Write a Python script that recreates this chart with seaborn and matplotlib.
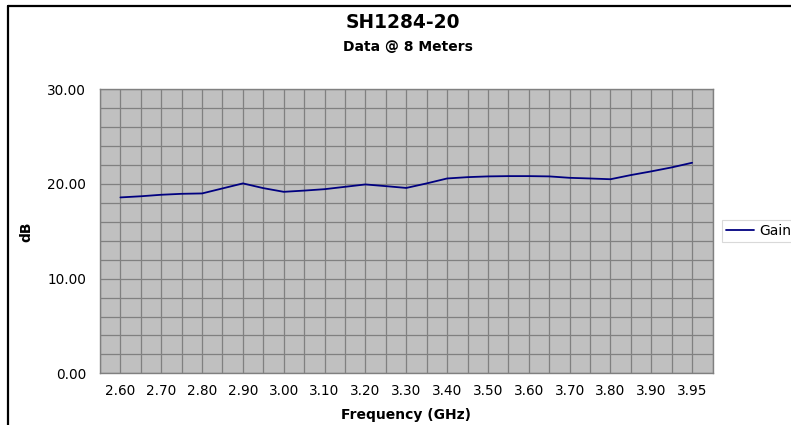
import matplotlib
matplotlib.use("Agg")
import matplotlib.pyplot as plt
from matplotlib.lines import Line2D
import seaborn as sns
import pandas as pd

# Frequency categories (GHz) - every other label is shown on the axis
freq_labels = ["2.60", "2.65", "2.70", "2.75", "2.80", "2.85", "2.90", "2.95",
               "3.00", "3.05", "3.10", "3.15", "3.20", "3.25", "3.30", "3.35",
               "3.40", "3.45", "3.50", "3.55", "3.60", "3.65", "3.70", "3.75",
               "3.80", "3.85", "3.90", "3.93", "3.95"]
# Gain (dB)
gain = [18.58, 18.7, 18.86, 18.96, 19.0, 19.53, 20.06, 19.56, 19.17, 19.3,
        19.45, 19.7, 19.95, 19.77, 19.58, 20.06, 20.58, 20.72, 20.8, 20.83,
        20.83, 20.8, 20.65, 20.58, 20.5, 20.94, 21.33, 21.75, 22.24]

df = pd.DataFrame({"pos": range(len(freq_labels)), "Gain": gain})

sns.set_style("white")
plt.rcParams["font.family"] = ["DejaVu Sans"]
plt.rcParams["text.color"] = "black"
plt.rcParams["axes.labelcolor"] = "black"

fig = plt.figure(figsize=(7.91, 4.25), dpi=100)
ax = fig.add_axes([0.1264, 0.1216, 0.7744, 0.6683])
ax.set_facecolor("#c0c0c0")

sns.lineplot(data=df, x="pos", y="Gain", ax=ax, color="#000080", linewidth=1.3, label="Gain")

# x axis: labels on even categories, tick marks between them
ax.set_xlim(-1, len(freq_labels))
ax.set_xticks(range(0, len(freq_labels), 2))
ax.set_xticklabels(freq_labels[::2])
ax.set_xticks(range(-1, len(freq_labels) + 1, 2), minor=True)
ax.tick_params(axis="x", which="major", length=0, pad=8, labelsize=9.8, labelcolor="black")
ax.tick_params(axis="x", which="minor", length=4, width=0.8, color="#808080", direction="out")

# y axis
ax.set_ylim(0, 30)
ax.set_yticks([0, 10, 20, 30])
ax.set_yticklabels(["0.00", "10.00", "20.00", "30.00"])
ax.set_yticks(range(0, 31, 2), minor=True)
ax.tick_params(axis="y", which="major", length=5, width=0.8, color="#808080", direction="out",
               pad=5, labelsize=9.8, labelcolor="black")
ax.tick_params(axis="y", which="minor", length=0)

ax.grid(True, which="both", color="#808080", linewidth=0.9)
ax.set_axisbelow(True)
for s in ax.spines.values():
    s.set_color("#808080")
    s.set_linewidth(1)
    s.set_visible(True)

ax.set_xlabel("Frequency (GHz)", fontsize=10, fontweight="bold")
ax.xaxis.set_label_coords(0.5, -0.122)
ax.set_ylabel("dB", fontsize=10, fontweight="bold")
ax.yaxis.set_label_coords(-0.108, 0.5)

fig.text(403 / 791, 1 - 23 / 425, "SH1284-20", ha="center", va="center", fontsize=13.4, fontweight="bold")
fig.text(408 / 791, 1 - 47 / 425, "Data @ 8 Meters", ha="center", va="center", fontsize=10, fontweight="bold")

leg = ax.legend(loc="center left", bbox_to_anchor=(722 / 791, 1 - 231 / 425),
                bbox_transform=fig.transFigure, frameon=True, fancybox=False,
                fontsize=10, handlelength=2.0, borderpad=0.3, handletextpad=0.4,
                borderaxespad=0)
leg.get_frame().set_edgecolor("#d0d0d0")
leg.get_frame().set_linewidth(0.8)

# outer chart frame (partially visible)
fig.add_artist(Line2D([8 / 791, 8 / 791], [0, 1 - 6 / 425], transform=fig.transFigure, color="black", linewidth=1.6))
fig.add_artist(Line2D([8 / 791, 1], [1 - 6 / 425, 1 - 6 / 425], transform=fig.transFigure, color="black", linewidth=1.6))

fig.savefig("out.png", dpi=100)
